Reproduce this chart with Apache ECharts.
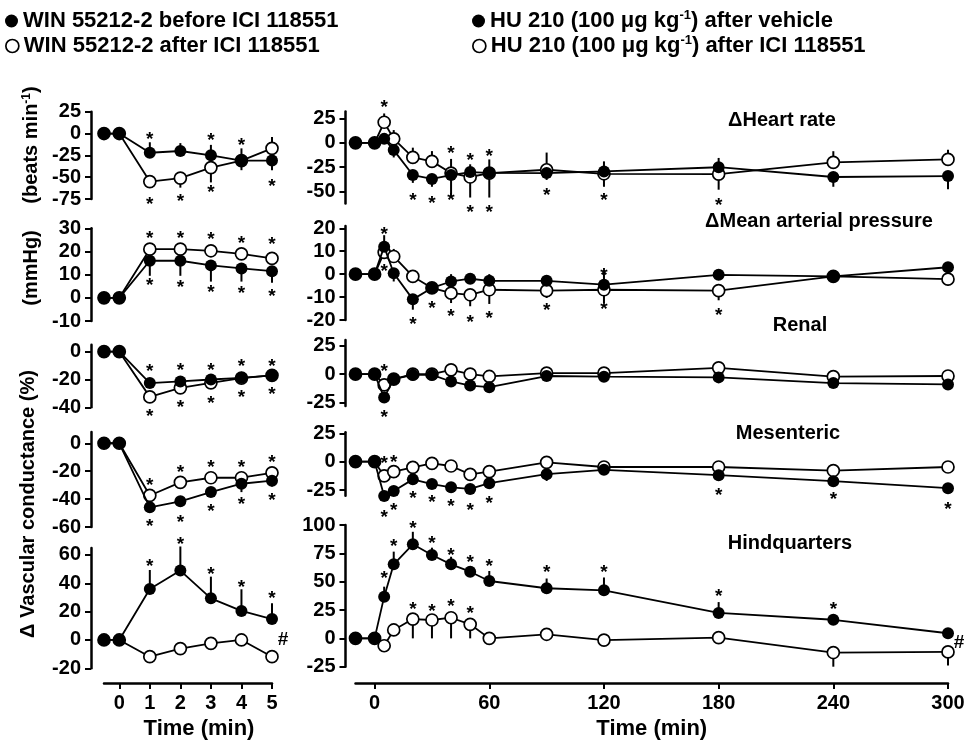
<!DOCTYPE html>
<html><head><meta charset="utf-8">
<script src="https://cdn.jsdelivr.net/npm/echarts@6/dist/echarts.min.js"></script>
<style>html,body{margin:0;padding:0;background:#fff}#c{width:964px;height:741px}</style>
</head><body><div id="c"></div>
<script>
// ---------- time points / ticks ----------
const timeL = [-0.5, 0, 1, 2, 3, 4, 5];
const timeR = [-10, 0, 5, 10, 20, 30, 40, 50, 60, 90, 120, 180, 240, 300];
const xTicksL = [0, 1, 2, 3, 4, 5];
const xTicksR = [0, 60, 120, 180, 240, 300];

const yTicksL_HR = [-75, -50, -25, 0, 25];
const yTicksL_MAP = [-10, 0, 10, 20, 30];
const yTicksL_Ren = [-40, -20, 0];
const yTicksL_Mes = [-60, -40, -20, 0];
const yTicksL_Hind = [-20, 0, 20, 40, 60];
const yTicksR_HR = [-50, -25, 0, 25];
const yTicksR_MAP = [-20, -10, 0, 10, 20];
const yTicksR_Ren = [-25, 0, 25];
const yTicksR_Mes = [-25, 0, 25];
const yTicksR_Hind = [-25, 0, 25, 50, 75, 100];

const nameWB = 'WIN 55212-2 before ICI 118551';
const nameWA = 'WIN 55212-2 after ICI 118551';
const nameHV = 'HU 210 (100 μg kg-1) after vehicle';
const nameHI = 'HU 210 (100 μg kg-1) after ICI 118551';

// ---------- left: WIN 55212-2 before (filled) / after (open) ICI 118551 ----------
const winBefore_HR = [0, 0, -22, -20, -25, -31, -31];
const winBefore_HR_err = [null, null, -10, -11, -13, -17, -42];
const winAfter_HR = [0, 0, -55, -51, -39, -31, -17];
const winAfter_HR_err = [null, null, -62, -62, -56, -42, -4];
const stars_L_HR = [[1, -2], [1, -77], [2, -74], [3, -4], [3, -63], [4, -10], [5, -56]];

const winBefore_MAP = [0, 0, 16, 16, 14, 12.7, 11.5];
const winBefore_MAP_err = [null, null, 9.5, 9.5, 7, 7, 6.5];
const winAfter_MAP = [0, 0, 21, 21, 20.3, 19, 17];
const winAfter_MAP_err = [null, null, null, null, null, null, null];
const stars_L_MAP = [[1, 27], [2, 27.4], [3, 26.7], [4, 25], [5, 24.5], [1, 6.8], [2, 6.2], [3, 4], [4, 3.6], [5, 2.2]];

const winBefore_Ren = [0, 0, -22.6, -21.4, -20, -18.8, -17];
const winBefore_Ren_err = [null, null, null, null, null, null, null];
const winAfter_Ren = [0, 0, -32.5, -26, -22.4, -19, -17];
const winAfter_Ren_err = [null, null, null, null, null, null, null];
const stars_L_Ren = [[1, -11.3], [2, -10.8], [3, -10.8], [4, -8.2], [5, -7.8], [1, -43.8], [2, -37.6], [3, -34.4], [4, -30], [5, -27.8]];

const winBefore_Mes = [0, 0, -45.9, -41.6, -35, -29, -26.8];
const winBefore_Mes_err = [null, null, null, null, null, -35, -31];
const winAfter_Mes = [0, 0, -37.4, -28, -24.7, -24.7, -21.2];
const winAfter_Mes_err = [null, null, null, null, null, null, null];
const stars_L_Mes = [[1, -27.5], [2, -18.1], [3, -14.6], [4, -14.6], [5, -11], [1, -57], [2, -54], [3, -46.4], [4, -40.9], [5, -38]];

const winBefore_Hind = [0, 0, 36, 49, 29.4, 20.5, 14.8];
const winBefore_Hind_err = [null, null, 49.4, 66, 44.7, 35.8, 26];
const winAfter_Hind = [0, 0, -11.8, -6.1, -2.4, 0, -11.8];
const winAfter_Hind_err = [null, null, null, null, null, null, null];
const stars_L_Hind = [[1, 54.6], [2, 70], [3, 49], [4, 39.5], [5, 31.8]];
const hash_L = [[5, 0]];

// ---------- right: HU 210 after vehicle (filled) / after ICI 118551 (open) ----------
const huVeh_HR = [0, 0, 4, -7.5, -33, -37, -33, -30, -30.7, -31, -29.3, -25, -35, -34];
const huVeh_HR_err = [null, null, null, -15, -41, -45, -16.5, -22, -17, -38, -19, -15.5, -45, -47.6];
const huIci_HR = [0, 0, 21, 4, -15, -19, -31, -35, -31, -27.6, -31.7, -32, -20, -17];
const huIci_HR_err = [null, null, 30, 13, -5, -8.5, -55, -56, -56, -10, -45, -48, -8.6, -7];
const stars_R_HR = [[5, 40], [20, -55], [30, -58], [40, -7], [40, -55], [50, -14.5], [50, -67], [60, -10], [60, -67], [90, -50], [120, -55], [180, -60]];

const huVeh_MAP = [0, 0, 12, 0.4, -11, -6, -3.2, -2, -2.9, -2.9, -4.6, -0.3, -1, 3];
const huVeh_MAP_err = [null, null, 17, -3.2, -15.5, -8, 0, 0, 0, null, 2, null, null, null];
const huIci_MAP = [0, 0, 9.5, 7.7, -1, -6, -8.3, -9, -6.8, -7.2, -6.8, -7.2, -1, -2.2];
const huIci_MAP_err = [null, null, null, 11, null, null, -12.6, -14, -13, -10.4, -12.6, -11.4, null, -5];
const stars_R_MAP = [[5, 19], [5, 2.6], [20, -20.4], [30, -13.3], [40, -17], [50, -19.6], [60, -17.7], [90, -14.3], [120, 1.2], [120, -14], [180, -16.2]];

const huVeh_Ren = [0, 0, -20.5, -4.4, -0.6, -0.6, -6.4, -10, -11.4, -1.6, -2.2, -2.8, -7.8, -9];
const huVeh_Ren_err = [null, null, null, -9, null, null, null, null, null, null, null, null, null, null];
const huIci_Ren = [0, 0, -9.4, -4.4, 0, 0, 3.8, 0, -2, 0.9, 0.9, 5.6, -2.2, -1.6];
const huIci_Ren_err = [null, null, null, null, null, null, null, null, null, null, null, null, null, null];
const stars_R_Ren = [[5, 5.3], [5, -35]];

const huVeh_Mes = [0, 0, -30.3, -25.9, -15.6, -19.7, -22.6, -24, -19, -11, -7.2, -11.9, -17.2, -23.4];
const huVeh_Mes_err = [null, null, null, null, null, null, null, null, null, -17, -11, null, -21, -27];
const huIci_Mes = [0, 0, -12.6, -8.8, -5, -1.5, -3.8, -11.2, -8.8, -0.6, -4.7, -4.7, -7.8, -4.7];
const huIci_Mes_err = [null, null, null, null, null, 2, 1, -6, -3, 2, null, null, null, null];
const stars_R_Mes = [[5, 1.5], [10, 2.9], [5, -45.6], [10, -39.7], [20, -29.4], [30, -32.4], [40, -36.2], [50, -39.7], [60, -33.8], [180, -26.6], [240, -30.3], [300, -39]];

const huVeh_Hind = [0, 0, 36.8, 65.3, 83, 73.5, 65.3, 58.8, 50.6, 44.2, 42.4, 22.4, 16.4, 4.5];
const huVeh_Hind_err = [null, null, 45.6, 76.5, 94, 80, 72, 63, 59.4, 52.8, 53.7, 32, 21, 9];
const huIci_Hind = [0, 0, -6.5, 7.4, 17, 16.2, 18.2, 12.4, 0, 3.6, -1.5, 0.6, -12.5, -12];
const huIci_Hind_err = [null, null, -11.8, null, 0, 0, 0, 0, null, null, null, null, -25, -24];
const stars_R_Hind = [[5, 55.9], [10, 84.4], [20, 100], [30, 86.8], [40, 76.5], [50, 70.6], [60, 66.8], [90, 61], [120, 61.8], [180, 40.3], [240, 29], [20, 28.5], [30, 27.4], [40, 31.5], [50, 25]];
const hash_R = [[300, -4]];

// ---------- layout ----------
const FONT = '"Liberation Sans", Arial, sans-serif';
const L = { left: 104, width: 168, min: -0.5, max: 5, axisX: 91, time: timeL, xt: xTicksL, fName: nameWB, oName: nameWA };
const R = { left: 355.5, width: 592.5, min: -10, max: 300, axisX: 345.5, time: timeR, xt: xTicksR, fName: nameHV, oName: nameHI };
const AXIS_Y = 683;

const panels = [
  { s: L, top: 111.7, bot: 199, max: 25, min: -75, yt: yTicksL_HR, f: winBefore_HR, fe: winBefore_HR_err, o: winAfter_HR, oe: winAfter_HR_err, st: stars_L_HR },
  { s: L, top: 228.3, bot: 321, max: 30, min: -10, yt: yTicksL_MAP, f: winBefore_MAP, fe: winBefore_MAP_err, o: winAfter_MAP, oe: winAfter_MAP_err, st: stars_L_MAP },
  { s: L, top: 344.75, bot: 407.3, max: 5, min: -40, yt: yTicksL_Ren, f: winBefore_Ren, fe: winBefore_Ren_err, o: winAfter_Ren, oe: winAfter_Ren_err, st: stars_L_Ren },
  { s: L, top: 432.1, bot: 527, max: 8, min: -60, yt: yTicksL_Mes, f: winBefore_Mes, fe: winBefore_Mes_err, o: winAfter_Mes, oe: winAfter_Mes_err, st: stars_L_Mes },
  { s: L, top: 547.9, bot: 668.3, max: 65, min: -20, yt: yTicksL_Hind, f: winBefore_Hind, fe: winBefore_Hind_err, o: winAfter_Hind, oe: winAfter_Hind_err, st: stars_L_Hind, hash: hash_L, bottomAxis: true },
  { s: R, top: 111.5, bot: 203.4, max: 32, min: -62, yt: yTicksR_HR, f: huVeh_HR, fe: huVeh_HR_err, o: huIci_HR, oe: huIci_HR_err, st: stars_R_HR },
  { s: R, top: 226, bot: 320, max: 21, min: -20, yt: yTicksR_MAP, f: huVeh_MAP, fe: huVeh_MAP_err, o: huIci_MAP, oe: huIci_MAP_err, st: stars_R_MAP },
  { s: R, top: 340, bot: 406.1, max: 30, min: -28, yt: yTicksR_Ren, f: huVeh_Ren, fe: huVeh_Ren_err, o: huIci_Ren, oe: huIci_Ren_err, st: stars_R_Ren },
  { s: R, top: 432.2, bot: 495.7, max: 26, min: -30, yt: yTicksR_Mes, f: huVeh_Mes, fe: huVeh_Mes_err, o: huIci_Mes, oe: huIci_Mes_err, st: stars_R_Mes },
  { s: R, top: 525, bot: 666.7, max: 100, min: -25, yt: yTicksR_Hind, f: huVeh_Hind, fe: huVeh_Hind_err, o: huIci_Hind, oe: huIci_Hind_err, st: stars_R_Hind, hash: hash_R, bottomAxis: true }
];

const grid = [], xAxis = [], yAxis = [], series = [];
const lineW = 1.8;
const TICK_FS = 20;

panels.forEach((p, i) => {
  const s = p.s;
  grid.push({ left: s.left, top: p.top, width: s.width, height: p.bot - p.top, outerBoundsMode: 'none', containLabel: false });
  xAxis.push({
    gridIndex: i, type: 'value', min: s.min, max: s.max, show: !!p.bottomAxis,
    position: 'bottom', offset: p.bottomAxis ? (AXIS_Y - p.bot) : 0,
    axisLine: { show: true, onZero: false, lineStyle: { color: '#000', width: 2.5 } },
    axisTick: { show: true, inside: false, length: 6, customValues: s.xt, lineStyle: { color: '#000', width: 2 } },
    axisLabel: { show: true, customValues: s.xt, margin: 10, color: '#000', fontFamily: FONT, fontWeight: 'bold', fontSize: TICK_FS },
    splitLine: { show: false },
    name: 'Time (min)', nameLocation: 'middle', nameGap: 35,
    nameTextStyle: { color: '#000', fontFamily: FONT, fontWeight: 'bold', fontSize: 22, padding: s === L ? [0, 0, 0, 22] : 0 }
  });
  yAxis.push({
    gridIndex: i, type: 'value', min: p.min, max: p.max, position: 'left', offset: s.left - s.axisX,
    axisLine: { show: true, onZero: false, lineStyle: { color: '#000', width: 2.5 } },
    axisTick: { show: true, inside: false, length: 6, customValues: p.yt, lineStyle: { color: '#000', width: 2 } },
    axisLabel: { show: true, customValues: p.yt, margin: 10, color: '#000', fontFamily: FONT, fontWeight: 'bold', fontSize: TICK_FS },
    splitLine: { show: false }
  });

  const mk = (vals) => s.time.map((t, k) => [t, vals[k]]);
  const mkErr = (vals, errs) => s.time.map((t, k) => [t, vals[k], errs[k]]).filter(d => d[2] !== null && d[2] !== undefined);
  const errSeries = (vals, errs) => ({
    type: 'custom', xAxisIndex: i, yAxisIndex: i, z: 1, silent: true, clip: false,
    data: mkErr(vals, errs),
    renderItem: (params, api) => {
      const a = api.coord([api.value(0), api.value(1)]);
      const b = api.coord([api.value(0), api.value(2)]);
      return { type: 'line', shape: { x1: a[0], y1: a[1], x2: b[0], y2: b[1] }, style: { stroke: '#000', lineWidth: 2 } };
    }
  });
  series.push(errSeries(p.o, p.oe));
  series.push(errSeries(p.f, p.fe));
  series.push({
    name: s.oName, type: 'line', xAxisIndex: i, yAxisIndex: i, z: 2, data: mk(p.o), clip: false,
    symbol: 'circle', symbolSize: 12, showSymbol: true, showAllSymbol: true, silent: true,
    lineStyle: { color: '#000', width: lineW },
    itemStyle: { color: '#fff', borderColor: '#000', borderWidth: 1.7 }
  });
  series.push({
    name: s.fName, type: 'line', xAxisIndex: i, yAxisIndex: i, z: 3, data: mk(p.f), clip: false,
    symbol: 'circle', symbolSize: 12, showSymbol: true, showAllSymbol: true, silent: true,
    lineStyle: { color: '#000', width: lineW },
    itemStyle: { color: '#000', borderColor: '#000', borderWidth: 0 }
  });
  series.push({
    type: 'custom', xAxisIndex: i, yAxisIndex: i, z: 4, silent: true, clip: false,
    data: p.st,
    renderItem: (params, api) => {
      const c = api.coord([api.value(0), api.value(1)]);
      return { type: 'text', x: c[0], y: c[1] + 4, style: { text: '*', font: 'bold 19px ' + FONT, fill: '#000', align: 'center', verticalAlign: 'middle' } };
    }
  });
  if (p.hash) {
    series.push({
      type: 'custom', xAxisIndex: i, yAxisIndex: i, z: 4, silent: true, clip: false,
      data: p.hash,
      renderItem: (params, api) => {
        const c = api.coord([api.value(0), api.value(1)]);
        return { type: 'text', x: c[0] + 11, y: c[1], style: { text: '#', font: 'bold 19px ' + FONT, fill: '#000', align: 'center', verticalAlign: 'middle' } };
      }
    });
  }
});

const legTS = { color: '#000', fontFamily: FONT, fontWeight: 'bold', fontSize: 22, lineHeight: 24,
  rich: { sup: { fontFamily: FONT, fontWeight: 'bold', fontSize: 13, lineHeight: 13, verticalAlign: 'top', color: '#000' } } };
const legFmt = n => n.replace('kg-1', 'kg{sup|-1}');
const mkLegend = (name, filled, left, top) => ({
  data: [{ name, icon: 'circle', itemStyle: filled ? { color: '#000', borderWidth: 0 } : { color: '#fff', borderColor: '#000', borderWidth: 1.7 } }],
  left, top, padding: 0, itemWidth: 13, itemHeight: 13, selectedMode: false, textStyle: legTS, formatter: legFmt
});

const titleStyle = (text, x, y, size) => ({ type: 'text', x, y, silent: true,
  style: { text, font: 'bold ' + size + 'px ' + FONT, fill: '#000', align: 'center', verticalAlign: 'middle' } });

const option = {
  animation: false,
  backgroundColor: '#fff',
  grid, xAxis, yAxis, series,
  legend: [
    mkLegend(nameWB, true, 5, 9),
    mkLegend(nameWA, false, 5, 34),
    mkLegend(nameHV, true, 472, 9),
    mkLegend(nameHI, false, 472, 34)
  ],
  graphic: [
    titleStyle('ΔHeart rate', 782, 120, 20),
    titleStyle('ΔMean arterial pressure', 819, 221, 20),
    titleStyle('Renal', 800, 325, 20),
    titleStyle('Mesenteric', 788, 433, 20),
    titleStyle('Hindquarters', 790, 543, 20),
    { type: 'text', x: 31, y: 145, rotation: Math.PI / 2, silent: true,
      style: { text: '(beats min{sup|-1})', font: 'bold 20px ' + FONT, fill: '#000', align: 'center', verticalAlign: 'middle',
        rich: { sup: { font: 'bold 12px ' + FONT, fill: '#000', verticalAlign: 'top', lineHeight: 12 } } } },
    { type: 'text', x: 31, y: 268, rotation: Math.PI / 2, silent: true,
      style: { text: '(mmHg)', font: 'bold 20px ' + FONT, fill: '#000', align: 'center', verticalAlign: 'middle' } },
    { type: 'text', x: 28, y: 504, rotation: Math.PI / 2, silent: true,
      style: { text: 'Δ Vascular conductance (%)', font: 'bold 20px ' + FONT, fill: '#000', align: 'center', verticalAlign: 'middle' } }
  ]
};

const chart = echarts.init(document.getElementById('c'), null, { renderer: 'canvas' });
chart.setOption(option);
</script>
</body></html>
